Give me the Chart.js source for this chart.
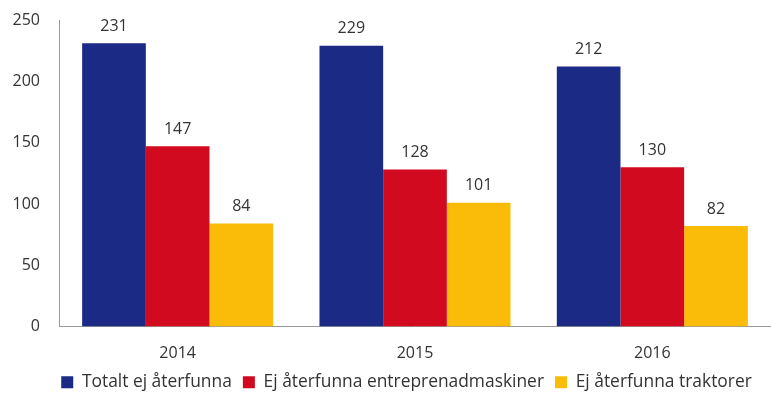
<!DOCTYPE html>
<html>
<head>
<meta charset="utf-8">
<script src="https://cdn.jsdelivr.net/npm/chart.js@4"></script>
<style>
  body { margin: 0; background: #fff; }
  #wrap { width: 771px; height: 403px; }
</style>
</head>
<body>
<div id="wrap"><canvas id="myChart" width="771" height="403"></canvas></div>
<script>
// Kategorier och serier
var years = ["2014", "2015", "2016"];
var totalt = [231, 229, 212];
var entreprenad = [147, 128, 130];
var traktorer = [84, 101, 82];
var yTicks = [0, 50, 100, 150, 200, 250];

var fontFam = "'Open Sans', sans-serif";

// Siffror ovanför staplarna
var valueLabels = {
  id: "valueLabels",
  afterLayout: function (chart) {
    // flytta legenden lite åt höger, som i originalet
    chart.legend.left = 42;
  },
  afterDatasetsDraw: function (chart) {
    var ctx = chart.ctx;
    ctx.save();
    ctx.font = "16px " + fontFam;
    ctx.fillStyle = "#333";
    ctx.textAlign = "center";
    ctx.textBaseline = "bottom";
    chart.data.datasets.forEach(function (ds, i) {
      chart.getDatasetMeta(i).data.forEach(function (bar, j) {
        ctx.fillText(ds.data[j], bar.x, bar.y - 9);
      });
    });
    ctx.restore();
  }
};

var ctx = document.getElementById("myChart").getContext("2d");
var myChart = new Chart(ctx, {
  type: "bar",
  data: {
    labels: years,
    datasets: [
      { label: "Totalt ej återfunna", data: totalt, backgroundColor: "#1b2a84" },
      { label: "Ej återfunna entreprenadmaskiner", data: entreprenad, backgroundColor: "#d20a1f" },
      { label: "Ej återfunna traktorer", data: traktorer, backgroundColor: "#fbbc09" }
    ]
  },
  options: {
    responsive: false,
    animation: false,
    layout: { padding: { top: 20, right: 0, left: 12, bottom: 2 } },
    categoryPercentage: 0.805,
    barPercentage: 1.0,
    plugins: {
      tooltip: { enabled: false },
      legend: {
        position: "bottom",
        labels: {
          boxWidth: 12,
          boxHeight: 12,
          padding: 11,
          color: "#333",
          font: { size: 17.4, family: fontFam }
        }
      }
    },
    scales: {
      x: {
        grid: { display: false, drawTicks: false },
        border: { display: true, color: "#999", width: 1 },
        ticks: { color: "#333", padding: 17, font: { size: 16, family: fontFam } },
        afterFit: function (axis) {
          axis.paddingLeft = 0;
          axis.paddingRight = 0;
          axis.height = 36;
        }
      },
      y: {
        min: 0,
        max: 250,
        afterBuildTicks: function (axis) {
          axis.ticks = yTicks.map(function (v) { return { value: v }; });
        },
        afterFit: function (axis) {
          axis.paddingTop = 10;
          axis.paddingBottom = 10;
          axis.width = 47;
        },
        grid: { display: false, drawTicks: false },
        border: { display: true, color: "#999", width: 1 },
        ticks: { color: "#333", padding: 19, font: { size: 16, family: fontFam } }
      }
    }
  },
  plugins: [valueLabels]
});
</script>
</body>
</html>
